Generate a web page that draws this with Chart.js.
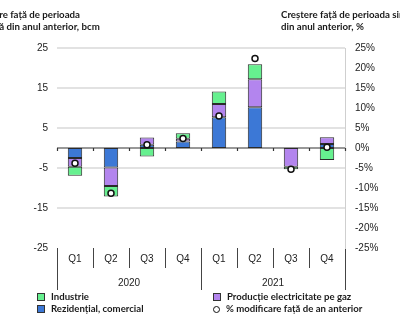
<!DOCTYPE html>
<html>
<head>
<meta charset="utf-8">
<script src="https://cdn.jsdelivr.net/npm/chart.js@4"></script>
<style>
html,body{margin:0;padding:0;background:#fff;}
#wrap{position:relative;width:400px;height:323px;overflow:hidden;}
canvas{position:absolute;left:0;top:0;}
.lg{position:absolute;font:bold 9.6px Lato, sans-serif;color:#1a1a1a;white-space:nowrap;line-height:11px;}
.sw{display:inline-block;width:6px;height:6px;border:1px solid #333;margin-right:6px;vertical-align:-1px;}
.ci{display:inline-block;width:5px;height:5px;border:1.5px solid #111;border-radius:50%;background:#fff;margin-right:6px;vertical-align:-1px;}
</style>
</head>
<body>
<div id="wrap">
<canvas id="c" width="400" height="323"></canvas>
<div id="legend"></div>
</div>
<script>
const quarters = ['Q1','Q2','Q3','Q4','Q1','Q2','Q3','Q4'];
const years = ['2020','2021'];
const residential = [-2.5, -4.9, 0.8, 1.6, 7.7, 10.2, null, 1.0];
const power = [-2.2, -4.6, 1.8, 0.7, 3.3, 7.0, -4.7, 1.7];
const industry = [-2.25, -2.6, -2.1, 1.4, 3.1, 3.75, -0.6, -3.0];
const pctChange = [-3.8, -11.3, 0.8, 2.4, 8.0, 22.4, -5.3, 0.2];
const labels = {
  industry: 'Industrie',
  residential: 'Rezidențial, comercial',
  power: 'Producție electricitate pe gaz',
  pct: '% modificare față de an anterior'
};
const titleLeft = ['Creștere față de perioada', 'similară din anul anterior, bcm'];
const titleRight = ['Creștere față de perioada similară', 'din anul anterior, %'];

const colors = {green:'#66F08F', purple:'#B385EE', blue:'#3C78D6', edge:'#2a2a2a'};

const titlesPlugin = {
  id:'titles',
  afterDraw(chart){
    const c = chart.ctx;
    c.save();
    c.font = 'bold 9.7px Lato, sans-serif';
    c.fillStyle = '#1a1a1a';
    c.textBaseline = 'middle';
    c.textAlign = 'left';
    const w = c.measureText(titleLeft[0]).width;
    const lx = 80 - w;
    c.fillText(titleLeft[0], lx, 15);
    c.fillText(titleLeft[1], lx, 27);
    c.fillText(titleRight[0], 281, 15);
    c.fillText(titleRight[1], 281, 27);
    c.restore();
  }
};

const zeroPlugin = {
  id:'zero',
  beforeDatasetsDraw(chart){
    const c = chart.ctx, xs = chart.scales.x, ys = chart.scales.y;
    const y0 = ys.getPixelForValue(0);
    const n = quarters.length;
    const cw = (xs.right - xs.left)/n;
    c.save();
    c.strokeStyle = '#333';
    c.lineWidth = 1.2;
    c.beginPath();
    c.moveTo(chart.chartArea.left, y0);
    c.lineTo(chart.chartArea.right, y0);
    for(let i=0;i<=n;i++){
      const bx = Math.round(xs.getPixelForValue(0) - cw/2 + i*cw) + 0.5;
      c.moveTo(bx, y0);
      c.lineTo(bx, y0+3);
    }
    c.stroke();
    c.restore();
  }
};

const barCommon = {type:'bar', borderColor:colors.edge, borderWidth:1, borderSkipped:false,
  barPercentage:0.4, categoryPercentage:1, stack:'s', yAxisID:'y', xAxisID:'x'};

new Chart(document.getElementById('c'), {
  data:{
    labels: quarters,
    datasets:[
      {type:'line', label:labels.pct, data:pctChange, yAxisID:'y1', xAxisID:'x', showLine:false,
        pointRadius:3, pointBackgroundColor:'#fff', pointBorderColor:'#111', pointBorderWidth:1.5, order:0},
      Object.assign({label:labels.residential, data:residential, backgroundColor:colors.blue, order:1}, barCommon),
      Object.assign({label:labels.power, data:power, backgroundColor:colors.purple, order:1}, barCommon),
      Object.assign({label:labels.industry, data:industry, backgroundColor:colors.green, order:1}, barCommon)
    ]
  },
  options:{
    responsive:false, animation:false,
    layout:{padding:{top:48,bottom:33,left:0,right:0}},
    plugins:{legend:{display:false}, tooltip:{enabled:false}},
    scales:{
      x:{type:'category', position:'bottom', offset:true, stacked:true,
        grid:{display:true, drawOnChartArea:false, drawTicks:true, tickLength:20, offset:true, color:'#444', lineWidth:1},
        border:{display:false},
        ticks:{font:{family:'Liberation Sans, Arial', size:10}, color:'#222', padding:-15, maxRotation:0, autoSkip:false},
        afterFit(s){ s.height = 20; }
      },
      x2:{type:'category', position:'bottom', labels:years, offset:true,
        grid:{display:true, drawOnChartArea:false, drawTicks:true, tickLength:22, offset:true, color:'#444', lineWidth:1},
        border:{display:false},
        ticks:{font:{family:'Liberation Sans, Arial', size:10}, color:'#222', padding:-13, maxRotation:0},
        afterFit(s){ s.height = 22; }
      },
      y:{position:'left', min:-25, max:25, stacked:true,
        ticks:{stepSize:10, font:{family:'Liberation Sans, Arial', size:10}, color:'#222', padding:9},
        grid:{drawTicks:false, lineWidth:2, color:(ctx)=> ctx.tick && ctx.tick.value === -25 ? 'rgba(0,0,0,0)' : '#e2e2e2'},
        border:{display:false},
        afterFit(s){ s.width = 57; }
      },
      y1:{position:'right', min:-25, max:25,
        ticks:{stepSize:5, font:{family:'Liberation Sans, Arial', size:10}, color:'#222', padding:10, callback:v=>v+'%'},
        grid:{drawOnChartArea:false, drawTicks:false},
        border:{display:true, color:'#cfcfcf', width:1},
        afterFit(s){ s.width = 55; }
      }
    }
  },
  plugins:[zeroPlugin, titlesPlugin]
});

const lg = document.getElementById('legend');
const items = [
  {t:labels.industry, x:37, y:291, k:'sw', c:colors.green},
  {t:labels.residential, x:37, y:303, k:'sw', c:colors.blue},
  {t:labels.power, x:213, y:291, k:'sw', c:colors.purple},
  {t:labels.pct, x:213, y:303, k:'ci', c:'#fff'}
];
items.forEach(it=>{
  const d = document.createElement('div');
  d.className='lg';
  d.style.left = it.x+'px'; d.style.top = it.y+'px';
  const s = document.createElement('span');
  s.className = it.k;
  if(it.k==='sw') s.style.background = it.c;
  d.appendChild(s);
  d.appendChild(document.createTextNode(it.t));
  lg.appendChild(d);
});
</script>
</body>
</html>
